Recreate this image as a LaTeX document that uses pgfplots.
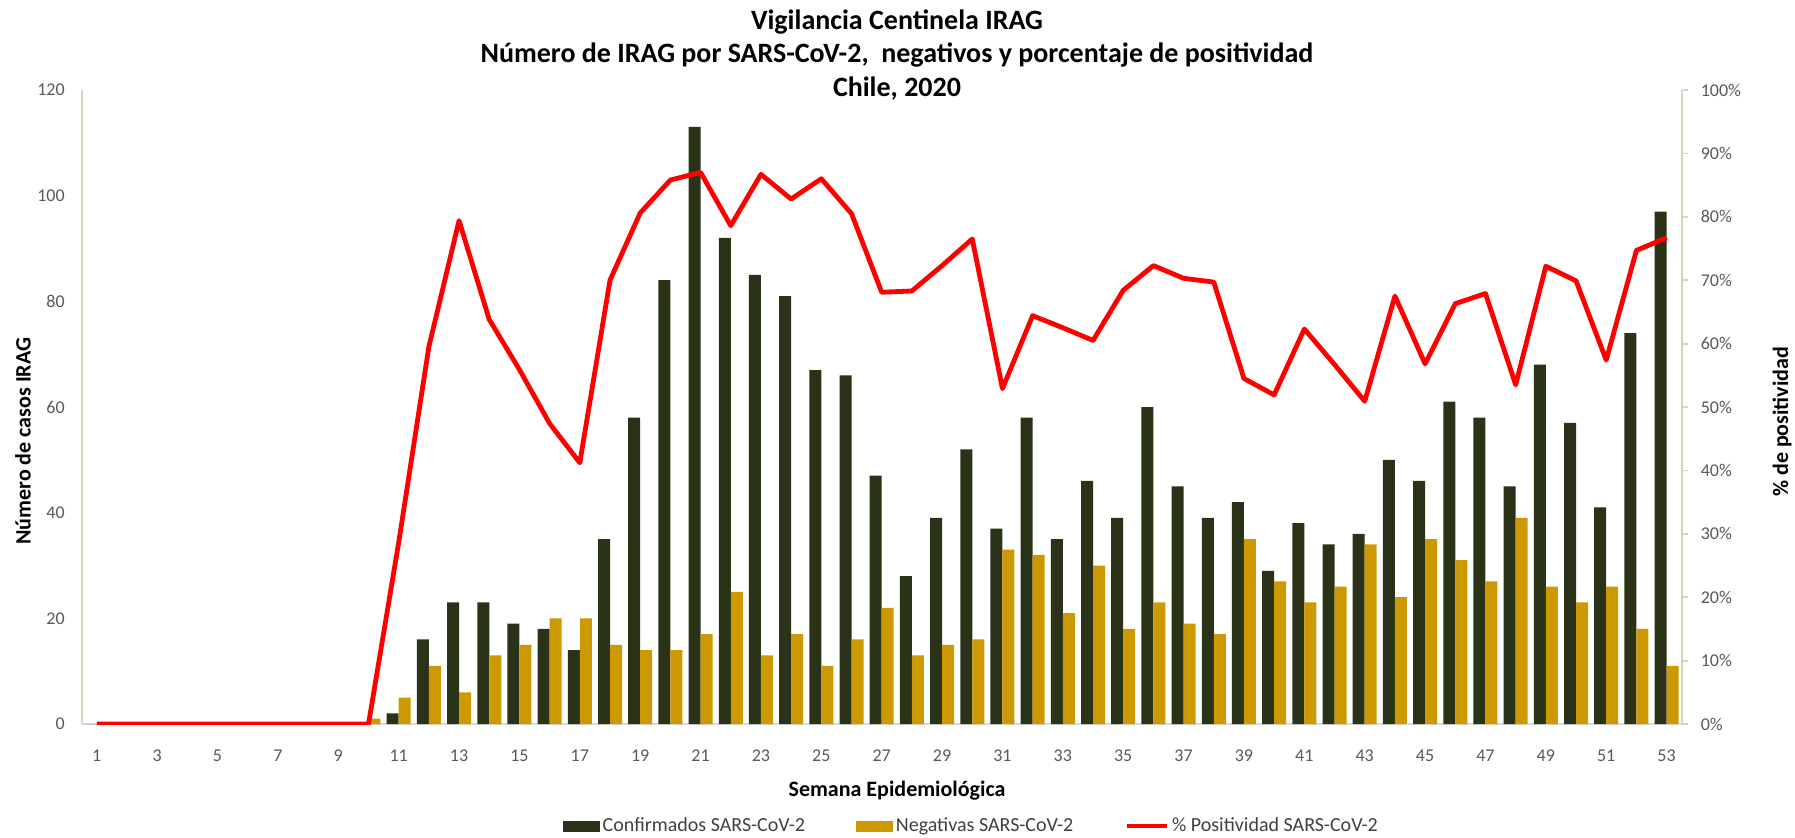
\documentclass[border=0pt]{standalone}
\usepackage{fontspec}
\setmainfont{Carlito}
\usepackage{pgfplots}
\usepackage{pgfplotstable}
\pgfplotsset{compat=1.18}
\definecolor{cconf}{HTML}{2A3318}
\definecolor{cneg}{HTML}{CC9900}
\definecolor{cpos}{HTML}{FF0000}
\definecolor{axbeige}{HTML}{D8D4C0}
\definecolor{axgray}{HTML}{D9D9D9}
\definecolor{ticktext}{HTML}{595959}
\definecolor{legtext}{HTML}{404040}

\pgfplotstableread{
w c n p
1 0 0 0
2 0 0 0
3 0 0 0
4 0 0 0
5 0 0 0
6 0 0 0
7 0 0 0
8 0 0 0
9 0 0 0
10 0 1 0
11 2 5 28.6
12 16 11 59.5
13 23 6 79.4
14 23 13 63.8
15 19 15 55.9
16 18 20 47.4
17 14 20 41.2
18 35 15 70.0
19 58 14 80.6
20 84 14 85.8
21 113 17 87.0
22 92 25 78.6
23 85 13 86.7
24 81 17 82.8
25 67 11 86.0
26 66 16 80.5
27 47 22 68.1
28 28 13 68.3
29 39 15 72.3
30 52 16 76.5
31 37 33 52.9
32 58 32 64.4
33 35 21 62.5
34 46 30 60.5
35 39 18 68.4
36 60 23 72.3
37 45 19 70.3
38 39 17 69.7
39 42 35 54.5
40 29 27 51.9
41 38 23 62.3
42 34 26 56.7
43 36 34 50.9
44 50 24 67.5
45 46 35 56.8
46 61 31 66.3
47 58 27 67.9
48 45 39 53.5
49 68 26 72.2
50 57 23 69.9
51 41 26 57.4
52 74 18 74.7
53 97 11 76.7
}\datatable

\begin{document}
\begin{tikzpicture}
\useasboundingbox (0,0) rectangle (897.5pt,418.5pt);
\pgfplotsset{
  base/.style={
    at={(40.85pt,56.5pt)}, anchor=south west,
    width=800pt, height=317pt, scale only axis,
    xmin=0.5, xmax=53.5,
    /pgf/number format/assume math mode=true,
    tick label style={font=\fontsize{9}{10}\selectfont, text=ticktext},
  }
}
\begin{axis}[base,
  ymin=0, ymax=120, ytick={0,20,...,120},
  axis y line*=left, axis x line*=bottom,
  x axis line style={draw=axgray, line width=0.9pt, -},
  y axis line style={draw=axbeige, line width=0.9pt, -},
  xtick={1,3,...,53}, tick style={draw=none},
  xticklabel style={yshift=-5pt},
  yticklabel style={xshift=-5pt},
  ybar=0pt, bar width=6pt,
  ]
\addplot[fill=cconf, draw=none] table[x=w,y=c]{\datatable};
\addplot[fill=cneg, draw=none] table[x=w,y=n]{\datatable};
\end{axis}
\begin{axis}[base,
  ymin=0, ymax=100, ytick={0,10,...,100},
  yticklabels={0\%,10\%,20\%,30\%,40\%,50\%,60\%,70\%,80\%,90\%,100\%},
  axis y line*=right, axis x line=none,
  y axis line style={draw=axbeige, line width=0.9pt, -},
  ytick style={draw=axbeige, line width=0.9pt}, tick align=outside, major tick length=3pt,
  yticklabel style={xshift=3pt},
  legend style={at={(0.5564,-0.1609)}, anchor=center, draw=none, fill=none,
    legend columns=3, font=\fontsize{10}{12}\selectfont, text=legtext,
    nodes={inner xsep=1.5pt, inner ysep=1pt},
    /tikz/every even column/.append style={column sep=24pt}},
  legend cell align=left,
  ]
\addlegendimage{legend image code/.code={\fill[cconf] (0pt,-2.5pt) rectangle (18pt,2.5pt);}}
\addlegendentry{Confirmados SARS-CoV-2}
\addlegendimage{legend image code/.code={\fill[cneg] (0pt,-2.5pt) rectangle (18pt,2.5pt);}}
\addlegendentry{Negativas SARS-CoV-2}
\addplot[color=cpos, line width=2.4pt, mark=none, line join=round,
  legend image code/.code={\draw[cpos, line width=2.4pt] (0pt,0pt) -- (20pt,0pt);}]
  table[x=w,y=p]{\datatable};
\addlegendentry{\% Positividad SARS-CoV-2}
\end{axis}
\node[font=\bfseries\fontsize{14}{16}\selectfont, anchor=base] at (448.5pt,403.7pt) {Vigilancia Centinela IRAG};
\node[font=\bfseries\fontsize{14}{16}\selectfont, anchor=base] at (448.5pt,387.1pt) {Número de IRAG por SARS-CoV-2,\ \ negativos y porcentaje de positividad};
\node[font=\bfseries\fontsize{14}{16}\selectfont, anchor=base] at (448.5pt,370.0pt) {Chile, 2020};
\node[font=\bfseries\fontsize{11}{13}\selectfont, anchor=base] at (448.5pt,20.3pt) {Semana Epidemiológica};
\node[font=\bfseries\fontsize{11}{13}\selectfont, rotate=90, anchor=center] at (11.5pt,197.9pt) {Número de casos IRAG};
\node[font=\bfseries\fontsize{11}{13}\selectfont, rotate=90, anchor=center] at (891pt,207.6pt) {\% de positividad};
\end{tikzpicture}
\end{document}
